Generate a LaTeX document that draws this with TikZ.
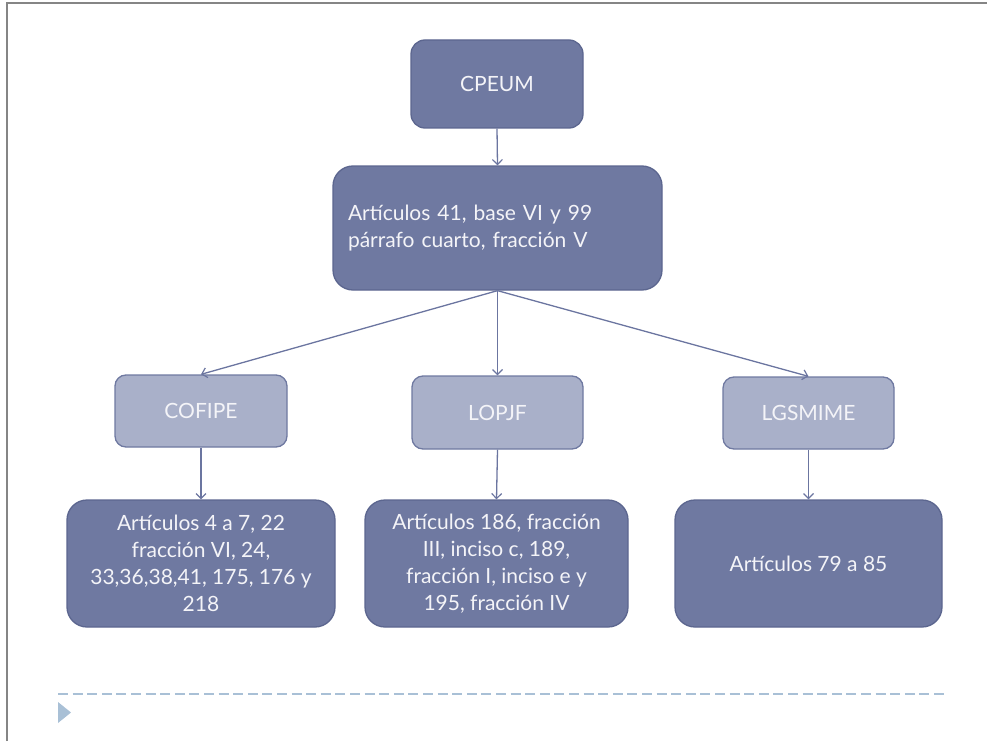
\documentclass[tikz,border=0pt]{standalone}
\usepackage{fontspec}
\setmainfont{Lato}
\usetikzlibrary{arrows.meta}
\definecolor{darkbox}{HTML}{6F79A1}
\definecolor{darkedge}{HTML}{5C668F}
\definecolor{lightbox}{HTML}{A9B0C9}
\definecolor{lightedge}{HTML}{6F79A1}
\definecolor{arrowc}{HTML}{6B75A0}
\definecolor{framec}{HTML}{858585}
\definecolor{dashc}{HTML}{A9C0D6}
\definecolor{boxtext}{HTML}{F4F4F8}
\tikzset{
  darknode/.style={draw=darkedge, fill=darkbox, line width=1.3pt, text=boxtext,
    rounded corners=14pt, align=center, inner sep=0pt,
    font=\fontsize{21}{27}\selectfont},
  lightnode/.style={draw=lightedge, fill=lightbox, line width=1.3pt, text=boxtext,
    rounded corners=11pt, align=center, inner sep=0pt,
    font=\fontsize{21}{27}\selectfont},
  link/.style={draw=arrowc, line width=1.3pt, -{Straight Barb[length=5pt,width=10pt,line width=1.2pt]}}
}
\begin{document}
\begin{tikzpicture}[x=1pt,y=-1pt]
\useasboundingbox (0,0) rectangle (987,741);
% frame
\draw[framec, line width=2pt] (7,741) -- (7,3) -- (987,3);
% nodes
\node[darknode, minimum width=172pt, minimum height=88pt] (cpeum) at (497,84) {CPEUM};
\node[darknode, minimum width=329pt, minimum height=124pt, rounded corners=20pt,
      text width=299pt, inner xsep=15pt, align=left] (art) at (497.5,228)
      {Artículos 41, base VI y 99\\párrafo cuarto, fracción V};
\node[lightnode, minimum width=172pt, minimum height=72pt] (cofipe) at (201,411) {COFIPE};
\node[lightnode, minimum width=171pt, minimum height=73pt] (lopjf) at (497.5,412.5) {LOPJF};
\node[lightnode, minimum width=171pt, minimum height=72pt] (lgs) at (808.5,413) {LGSMIME};
\node[darknode, minimum width=268pt, minimum height=127pt, rounded corners=20pt] (b1) at (201,563.5)
      {Artículos 4 a 7, 22\\fracción VI, 24,\\33,36,38,41, 175, 176 y\\218};
\node[darknode, minimum width=263pt, minimum height=127pt, rounded corners=20pt] (b2) at (496.5,563.5)
      {Artículos 186, fracción\\III, inciso c, 189,\\fracción I, inciso e y\\195, fracción IV};
\node[darknode, minimum width=267pt, minimum height=127pt, rounded corners=20pt] (b3) at (808.5,563.5)
      {Artículos 79 a 85};
% connectors
\draw[link] (cpeum.south) -- (art.north);
\draw[link] (art.south) -- (cofipe.north);
\draw[link] (art.south) -- (lopjf.north);
\draw[link] (art.south) -- (lgs.north);
\draw[link] (cofipe.south) -- (b1.north);
\draw[link] (lopjf.south) -- (b2.north);
\draw[link] (lgs.south) -- (b3.north);
% footer
\draw[dashc, line width=2pt, dash pattern=on 10pt off 4.6pt] (58,694) -- (948,694);
\fill[dashc] (58,702) -- (71,712.5) -- (58,723) -- cycle;
\end{tikzpicture}
\end{document}
